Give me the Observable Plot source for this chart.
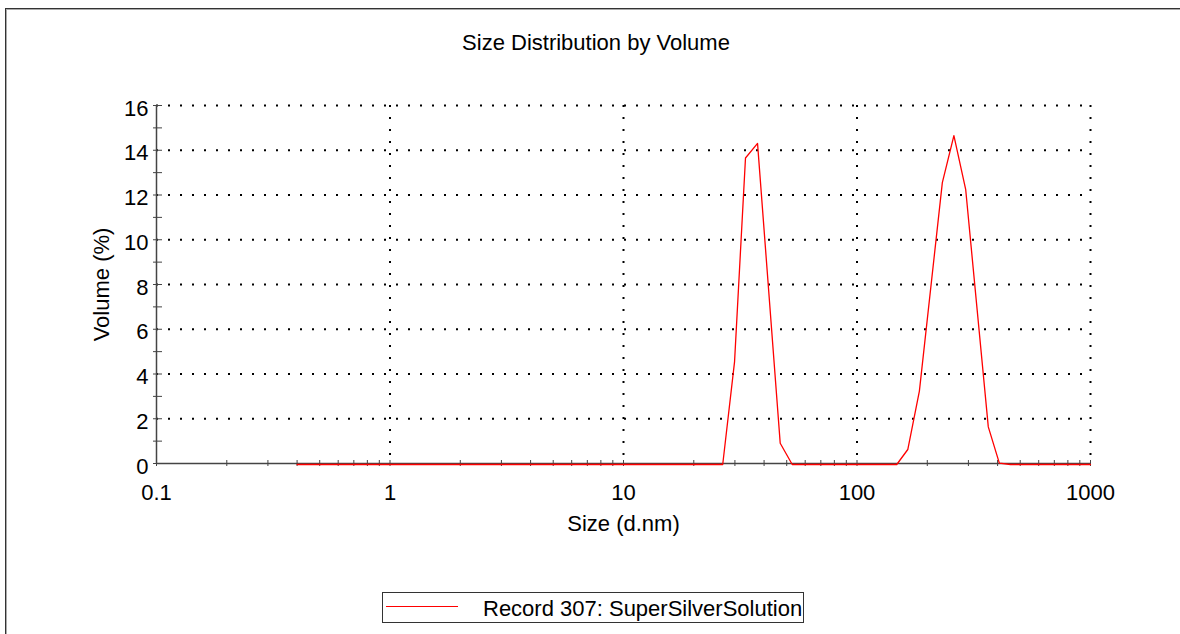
<!DOCTYPE html>
<html>
<head>
<meta charset="utf-8">
<script src="https://cdn.jsdelivr.net/npm/d3@7"></script>
<script src="https://cdn.jsdelivr.net/npm/@observablehq/plot@0.6"></script>
<style>
  html, body { margin: 0; padding: 0; background: #fff; font-family: "Liberation Sans", Arial, sans-serif; color: #000; overflow: hidden; }
  #wrap { position: relative; width: 1180px; height: 634px; overflow: hidden; background: #fff; }
  #hline { position: absolute; left: 5px; top: 8px; width: 1175px; height: 1px; background: #333; }
  #hline2 { position: absolute; left: 6px; top: 9px; width: 1174px; height: 1px; background: #aaa; }
  #vline { position: absolute; left: 5px; top: 8px; width: 1px; height: 626px; background: #333; }
  #vline2 { position: absolute; left: 6px; top: 9px; width: 1px; height: 625px; background: #aaa; }
  #title { position: absolute; left: 0; top: 30px; width: 1192px; text-align: center; font-size: 22px; line-height: normal; }
  #chart { position: absolute; left: 0; top: 80px; }
  #legend { position: absolute; left: 382px; top: 592px; width: 420px; height: 29px; border: 1px solid #333; background: #fff; }
  #legend .swatch { position: absolute; left: 3px; top: 13px; width: 72px; height: 1px; background: #ff0000; }
  #legend .lbl { position: absolute; left: 100px; top: 3px; font-size: 22px; line-height: normal; white-space: nowrap; }
</style>
</head>
<body>
<div id="wrap">
  <div id="hline"></div><div id="hline2"></div><div id="vline"></div><div id="vline2"></div>
  <div id="title"></div>
  <div id="chart"></div>
  <div id="legend"><div class="swatch"></div><div class="lbl"></div></div>
</div>
<script>
// ---- data ----
const titleText = "Size Distribution by Volume";
const xLabel = "Size (d.nm)";
const yLabel = "Volume (%)";
const seriesName = "Record 307: SuperSilverSolution";

// particle size (d.nm) at each visible vertex of the curve
const sizes   = [0.4, 26.6, 29.9, 33.3, 37.5, 46.9, 52.8, 148, 165, 185, 232, 260, 292, 365, 407, 454, 1000];
// volume (%) at those sizes
const volumes = [0,   0,    4.6,  13.7, 14.35, 0.95, 0,   0,   0.67, 3.28, 12.6, 14.7, 12.3, 1.68, 0.06, 0,  0];

const xMajorTicks = [0.1, 1, 10, 100, 1000];
const xTickLabels = ["0.1", "1", "10", "100", "1000"];
const xMinorTicks = [0.2, 0.3, 0.4, 0.5, 0.6, 0.7, 0.8, 0.9,
                     2, 3, 4, 5, 6, 7, 8, 9,
                     20, 30, 40, 50, 60, 70, 80, 90,
                     200, 300, 400, 500, 600, 700, 800, 900];
const yMajorTicks = [0, 2, 4, 6, 8, 10, 12, 14, 16];
const yMinorTicks = [1, 3, 5, 7, 9, 11, 13, 15];

const data = sizes.map((s, i) => ({size: s, volume: volumes[i]}));

document.getElementById("title").textContent = titleText;
document.querySelector("#legend .lbl").textContent = seriesName;

const axisColor = "#444";
const dotted = {stroke: "#000", strokeWidth: 2, strokeDasharray: "2,10"};

const chart = Plot.plot({
  width: 1180,
  height: 480,
  marginTop: 25,
  marginBottom: 97,
  marginLeft: 156,
  marginRight: 90,
  style: {fontFamily: "'Liberation Sans', Arial, sans-serif", fontSize: "22px", color: "#000", background: "transparent", overflow: "visible"},
  x: {type: "log", domain: [0.1, 1000], axis: null},
  y: {domain: [0, 16], axis: null},
  marks: [
    Plot.ruleY(yMajorTicks.filter(d => d > 0), dotted),
    Plot.ruleX(xMajorTicks.filter(d => d > 0.1), dotted),
    Plot.ruleY([0], {stroke: axisColor, strokeWidth: 1.5}),
    Plot.ruleX([0.1], {stroke: axisColor, strokeWidth: 1.5}),
    Plot.axisX({ticks: [...xMajorTicks, ...xMinorTicks], tickSize: 6, dy: -3, tickFormat: () => "", label: null, stroke: axisColor}),
    Plot.axisX({ticks: xMajorTicks, tickSize: 0, tickPadding: 21, tickFormat: d => xTickLabels[xMajorTicks.indexOf(d)], label: null, fill: "#000"}),
    Plot.axisY({ticks: [...yMajorTicks, ...yMinorTicks], tickSize: 9, dx: 6, tickFormat: () => "", label: null, stroke: axisColor}),
    Plot.axisY({ticks: yMajorTicks, tickSize: 0, tickPadding: 8, dy: 3, label: null, fill: "#000"}),
    Plot.line(data, {x: "size", y: "volume", stroke: "#ff0000", strokeWidth: 1.3, dy: 1}),
    Plot.text([xLabel], {text: d => d, frameAnchor: "bottom", dy: 60, textAnchor: "middle", lineAnchor: "middle", fill: "#000"}),
    Plot.text([yLabel], {text: d => d, frameAnchor: "left", dx: -55, rotate: -90, textAnchor: "middle", lineAnchor: "middle", fill: "#000"})
  ]
});
document.getElementById("chart").appendChild(chart);
</script>
</body>
</html>
